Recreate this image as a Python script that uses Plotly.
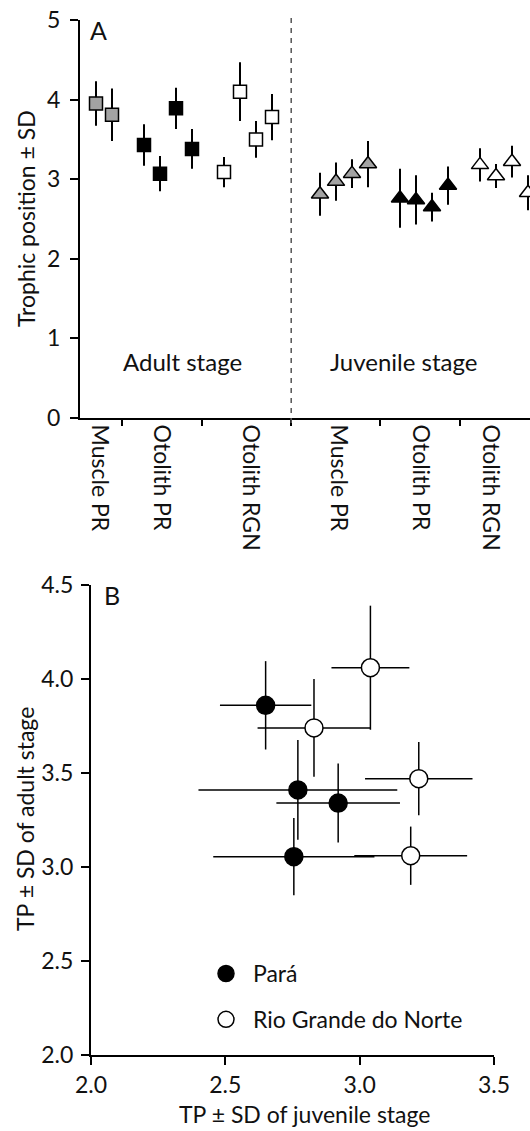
import plotly.graph_objects as go

W, H = 530, 1131
FONT = "Lato"
INK = "#111111"
FS = 23

# ---- Panel A: trophic position (mean ± SD) by tissue / region and life stage
tissue_labels = ["Muscle PR", "Otolith PR", "Otolith RGN",
                 "Muscle PR", "Otolith PR", "Otolith RGN"]
stage_labels = ["Adult stage", "Juvenile stage"]

adult_muscle_pr = [3.95, 3.81]
adult_muscle_pr_sd = [0.28, 0.33]
adult_otolith_pr = [3.43, 3.07, 3.89, 3.38]
adult_otolith_pr_sd = [0.26, 0.22, 0.26, 0.25]
adult_otolith_rgn = [3.09, 4.10, 3.50, 3.78]
adult_otolith_rgn_sd = [0.19, 0.37, 0.23, 0.29]

juv_muscle_pr = [2.81, 2.97, 3.07, 3.19]
juv_muscle_pr_sd = [0.27, 0.24, 0.18, 0.29]
juv_otolith_pr = [2.76, 2.74, 2.65, 2.92]
juv_otolith_pr_sd = [0.37, 0.31, 0.18, 0.24]
juv_otolith_rgn = [3.18, 3.04, 3.22, 2.83]
juv_otolith_rgn_sd = [0.21, 0.15, 0.20, 0.22]

# ---- Panel B: adult vs juvenile trophic position per region
para_juv = [2.65, 2.77, 2.92, 2.755]
para_juv_sd = [0.17, 0.37, 0.23, 0.30]
para_adult = [3.86, 3.41, 3.34, 3.055]
para_adult_sd = [0.235, 0.265, 0.21, 0.205]

rgn_juv = [2.83, 3.04, 3.22, 3.19]
rgn_juv_sd = [0.21, 0.145, 0.20, 0.21]
rgn_adult = [3.74, 4.06, 3.47, 3.06]
rgn_adult_sd = [0.26, 0.33, 0.195, 0.155]

# Layout of panel A along its x axis (slot units)
group_start = [1, 4, 9, 15, 20, 25]
group_bounds = [2.6, 7.6, 13.2, 18.75, 23.75]
label_pos = [1.2, 5.1, 10.65, 16.15, 21.3, 25.65]
stage_divider = 13.2
x_max = 450 / 16

GRAY = "#a3a3a3"

series_a = [
    (adult_muscle_pr, adult_muscle_pr_sd, "square", GRAY),
    (adult_otolith_pr, adult_otolith_pr_sd, "square", "black"),
    (adult_otolith_rgn, adult_otolith_rgn_sd, "square", "white"),
    (juv_muscle_pr, juv_muscle_pr_sd, "triangle-up", GRAY),
    (juv_otolith_pr, juv_otolith_pr_sd, "triangle-up", "black"),
    (juv_otolith_rgn, juv_otolith_rgn_sd, "triangle-up", "white"),
]

fig = go.Figure()

for (vals, sds, sym, fill), start in zip(series_a, group_start):
    fig.add_trace(go.Scatter(
        x=[start + i for i in range(len(vals))], y=vals,
        mode="markers", showlegend=False,
        xaxis="x", yaxis="y",
        error_y=dict(type="data", array=sds, width=0, thickness=2, color="black"),
        marker=dict(symbol=sym, size=13 if sym == "square" else 15,
                    color=fill, line=dict(color="black", width=1.5)),
    ))

for name, jx, jsd, ay, asd, fill in [
    ("Pará", para_juv, para_juv_sd, para_adult, para_adult_sd, "black"),
    ("Rio Grande do Norte", rgn_juv, rgn_juv_sd, rgn_adult, rgn_adult_sd, "white"),
]:
    fig.add_trace(go.Scatter(
        x=jx, y=ay, name=name, legendgroup=name,
        mode="markers", xaxis="x2", yaxis="y2",
        error_x=dict(type="data", array=jsd, width=0, thickness=1.5, color="black"),
        error_y=dict(type="data", array=asd, width=0, thickness=1.5, color="black"),
        marker=dict(symbol="circle", size=18, color=fill,
                    line=dict(color="black", width=1.5)),
    ))

tickfont = dict(family=FONT, size=FS, color=INK)
axis_common = dict(showgrid=False, zeroline=False, showline=True,
                   linecolor="black", linewidth=2, tickcolor="black",
                   tickwidth=1.5, ticklen=8, ticks="outside",
                   tickfont=tickfont, automargin=False)

fig.update_layout(
    width=W, height=H,
    margin=dict(l=0, r=0, t=0, b=0),
    paper_bgcolor="white", plot_bgcolor="white",
    font=dict(family=FONT, size=FS, color=INK),
    xaxis=dict(axis_common, domain=[80 / W, 1.0], range=[0, x_max],
               anchor="y", tickmode="array", tickvals=label_pos,
               ticktext=tissue_labels, ticks="", tickangle=90,
               minor=dict(tickmode="array", tickvals=group_bounds,
                          ticks="outside", ticklen=6, tickwidth=1.5,
                          tickcolor="black", showgrid=False)),
    yaxis=dict(axis_common, domain=[1 - 418 / H, 1 - 20 / H], range=[0, 5],
               anchor="x", dtick=1, tick0=0, ticklabelstandoff=5),
    xaxis2=dict(axis_common, domain=[91 / W, 494 / W], range=[2, 3.5],
                anchor="y2", dtick=0.5, tick0=2, tickformat=".1f"),
    yaxis2=dict(axis_common, domain=[1 - 1055 / H, 1 - 585 / H], range=[2, 4.5],
                anchor="x2", dtick=0.5, tick0=2, tickformat=".1f",
                ticklabelstandoff=3),
    legend=dict(x=199 / W, y=1 - 952 / H, xanchor="left", yanchor="top",
                font=dict(family=FONT, size=FS, color=INK),
                traceorder="grouped", tracegroupgap=13, itemwidth=44,
                bgcolor="rgba(0,0,0,0)", itemsizing="trace"),
    shapes=[dict(type="line", xref="x", yref="paper",
                 x0=stage_divider, x1=stage_divider,
                 y0=1 - 423 / H, y1=1 - 17 / H,
                 line=dict(color="#555555", width=1.5, dash="5px,5px"))],
)

annots = [
    dict(text="A", xref="paper", yref="paper", x=98 / W, y=1 - 30 / H, size=25),
    dict(text="B", xref="paper", yref="paper", x=112 / W, y=1 - 595 / H, size=25),
    dict(text=stage_labels[0], xref="x", yref="y", x=6.4, y=0.71, size=24),
    dict(text=stage_labels[1], xref="x", yref="y", x=20.2, y=0.71, size=24),
    dict(text="Trophic position ± SD", xref="paper", yref="paper",
         x=26 / W, y=1 - 219 / H, textangle=-90, size=FS),
    dict(text="TP ± SD of adult stage", xref="paper", yref="paper",
         x=25 / W, y=1 - 819 / H, textangle=-90, size=FS),
    dict(text="TP ± SD of juvenile stage", xref="paper", yref="paper",
         x=304 / W, y=1 - 1114 / H, size=FS),
]
for a in annots:
    size = a.pop("size")
    fig.add_annotation(showarrow=False, xanchor="center", yanchor="middle",
                       font=dict(family=FONT, size=size, color=INK), **a)

fig.write_html("out.html")
